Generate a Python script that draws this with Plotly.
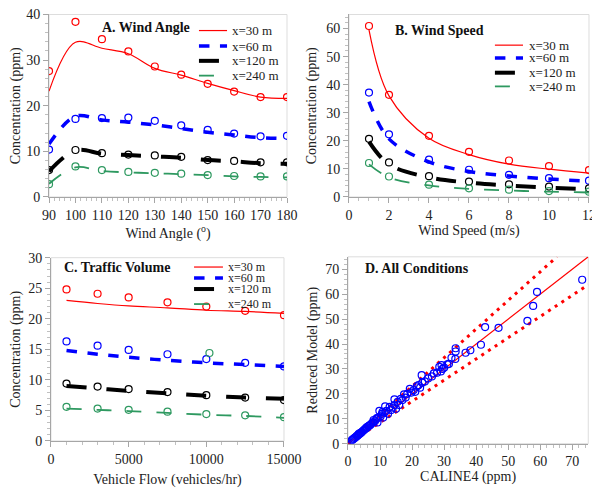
import plotly.graph_objects as go

# ---- A. Wind angle ----
angle = [90, 100, 110, 120, 130, 140, 150, 160, 170, 180]
a_pts = {
    "30": [27.6, 38.4, 34.6, 31.9, 28.6, 26.8, 24.8, 23.1, 21.9, 21.9],
    "60": [10.4, 17.1, 17.3, 17.4, 16.7, 15.7, 14.7, 13.9, 13.3, 13.4],
    "120": [5.9, 10.3, 9.6, 9.3, 9.1, 8.8, 8.1, 7.9, 7.6, 7.6],
    "240": [2.8, 6.7, 5.9, 5.5, 5.3, 5.1, 4.8, 4.6, 4.5, 4.5],
}
a_fit = {
    "30": [23.2, 33.9, 32.6, 31.4, 28.2, 26.7, 24.9, 23.3, 21.9, 21.6],
    "60": [11.6, 17.7, 16.9, 16.4, 15.8, 15.0, 14.2, 13.6, 13.0, 12.8],
    "120": [5.6, 10.2, 9.5, 9.2, 8.9, 8.6, 8.1, 7.8, 7.4, 7.3],
    "240": [2.9, 6.5, 5.7, 5.4, 5.2, 5.0, 4.8, 4.5, 4.4, 4.3],
}

# ---- B. Wind speed ----
speed = [1, 2, 4, 6, 8, 10, 12]
b_pts = {
    "30": [60.9, 36.4, 21.8, 16.1, 13.0, 11.0, 9.6],
    "60": [37.2, 22.3, 13.3, 9.7, 7.9, 6.7, 5.8],
    "120": [20.7, 12.3, 7.4, 5.5, 4.5, 3.7, 3.1],
    "240": [12.1, 7.3, 4.4, 3.1, 2.6, 2.1, 1.9],
}
b_fit = {
    "30": [59.5, 36.0, 20.9, 15.1, 11.7, 9.9, 8.5],
    "60": [34.0, 20.7, 12.5, 9.1, 7.5, 6.4, 5.6],
    "120": [19.7, 11.6, 7.0, 5.1, 4.1, 3.3, 2.8],
    "240": [11.6, 7.0, 4.1, 2.9, 2.3, 1.9, 1.6],
}

# ---- C. Traffic volume ----
flow = [1000, 3000, 5000, 7500, 10000, 12500, 15000]
c_pts = {
    "30": [24.8, 24.1, 23.5, 22.7, 22.0, 21.3, 20.6],
    "60": [16.3, 15.6, 14.9, 14.2, 13.4, 12.8, 12.2],
    "120": [9.4, 8.9, 8.5, 8.0, 7.5, 7.1, 6.7],
    "240": [5.6, 5.3, 5.1, 4.8, 4.4, 4.2, 3.9],
}
c_fit = {
    "30": [23.0, 22.5, 22.1, 21.8, 21.4, 21.2, 20.9],
    "60": [14.8, 14.2, 13.7, 13.2, 12.8, 12.5, 12.2],
    "120": [9.0, 8.6, 8.2, 7.8, 7.4, 7.1, 6.9],
    "240": [5.3, 5.1, 4.9, 4.6, 4.3, 4.1, 3.8],
}
c_extra_x = [10200]      # stray green point in the original
c_extra_y = [14.4]

# ---- D. All conditions ----
caline4 = [1.2, 1.5, 1.8, 2.1, 2.4, 2.7, 3.0, 3.2, 3.5, 3.8, 4.1, 4.4, 4.7, 5.0,
           5.3, 5.6, 6.0, 6.3, 6.7, 7.0, 7.3, 7.7, 8.0, 8.4, 8.8, 9.2, 9.5, 9.8,
           10.2, 10.6, 11.0, 11.4, 11.6, 12.0, 12.5, 13.0, 13.5, 14.0, 14.5, 14.5,
           15.0, 15.5, 16.0, 16.5, 17.0, 17.5, 18.0, 18.5, 19.3, 19.8, 20.5, 21.0,
           21.5, 22.0, 22.5, 23.0, 23.2, 24.0, 25.0, 26.2, 26.8, 27.8, 28.5, 29.0,
           29.2, 29.5, 30.0, 31.0, 31.5, 32.3, 33.6, 33.6, 33.5, 36.7, 38.2, 41.5,
           42.8, 47.0, 56.0, 57.8, 59.0, 73.1, 3.4, 4.0, 5.8, 6.5, 7.9, 9.0, 10.8]
reduced = [1.4, 1.7, 2.0, 2.3, 2.6, 3.0, 3.2, 3.6, 3.8, 4.2, 4.5, 4.8, 5.2, 5.5,
           5.9, 6.1, 6.5, 7.0, 7.3, 7.6, 8.0, 8.5, 9.5, 9.0, 9.8, 8.5, 10.5, 13.2,
           11.0, 12.0, 10.5, 12.5, 15.0, 13.2, 12.0, 14.8, 13.5, 14.5, 17.8, 15.5,
           14.0, 16.8, 15.5, 18.0, 17.5, 19.8, 18.5, 20.0, 22.0, 20.5, 21.5, 20.8,
           23.0, 23.5, 22.5, 27.5, 24.5, 25.0, 26.2, 27.0, 28.2, 28.5, 30.8, 29.0,
           31.5, 30.0, 30.5, 31.8, 32.0, 34.5, 38.3, 37.0, 34.0, 36.5, 37.5, 39.7,
           46.8, 46.5, 49.3, 55.3, 60.9, 65.8, 3.9, 4.3, 6.6, 7.1, 8.6, 10.3, 12.8]
one_x = [0, 75]
one_y = [0, 75]
up_x = [0, 65.2]
up_y = [0, 75]
lo_x = [0, 75]
lo_y = [0, 63.8]

series = ["30", "60", "120", "240"]
labels = ["x=30 m", "x=60 m", "x=120 m", "x=240 m"]
colors = {"30": "#ff0000", "60": "#0000ff", "120": "#000000", "240": "#2e9960"}
styles = {"30": ("solid", 1.2), "60": ("dash", 3.5), "120": ("longdash", 4), "240": ("longdash", 1.8)}

FONT = "Liberation Serif"
fig = go.Figure()

panels = [("x", "y", angle, a_pts, a_fit), ("x2", "y2", speed, b_pts, b_fit),
          ("x3", "y3", flow, c_pts, c_fit)]
for xa, ya, xs, pts, fit in panels:
    for s in series:
        dash, w = styles[s]
        fig.add_trace(go.Scatter(x=xs, y=fit[s], mode="lines", xaxis=xa, yaxis=ya,
                                 line=dict(color=colors[s], dash=dash, width=w, shape="spline", smoothing=1.0),
                                 showlegend=False))
        fig.add_trace(go.Scatter(x=xs, y=pts[s], mode="markers", xaxis=xa, yaxis=ya,
                                 marker=dict(symbol="circle-open", size=7, color=colors[s], line=dict(width=1.2)),
                                 showlegend=False))

fig.add_trace(go.Scatter(x=c_extra_x, y=c_extra_y, mode="markers", xaxis="x3", yaxis="y3",
                         marker=dict(symbol="circle-open", size=7, color=colors["240"], line=dict(width=1.2)),
                         showlegend=False))

# panel D
fig.add_trace(go.Scatter(x=up_x, y=up_y, mode="lines", xaxis="x4", yaxis="y4",
                         line=dict(color="#ff0000", dash="3px,5px", width=3), showlegend=False))
fig.add_trace(go.Scatter(x=lo_x, y=lo_y, mode="lines", xaxis="x4", yaxis="y4",
                         line=dict(color="#ff0000", dash="3px,5px", width=3), showlegend=False))
fig.add_trace(go.Scatter(x=one_x, y=one_y, mode="lines", xaxis="x4", yaxis="y4",
                         line=dict(color="#ff0000", width=1.2), showlegend=False))
fig.add_trace(go.Scatter(x=caline4, y=reduced, mode="markers", xaxis="x4", yaxis="y4",
                         marker=dict(symbol="circle-open", size=7, color="#0000ff", line=dict(width=1.2)),
                         showlegend=False))

tickfont = dict(family=FONT, size=14, color="#222")
titlefont = dict(family=FONT, size=14, color="#222")


def ax(domain, rng, dtick, minor, title, anchor, standoff=2):
    return dict(domain=domain, range=rng, dtick=dtick, tick0=rng[0] if rng[0] > 0 else 0,
                showgrid=False, zeroline=False, showline=True, linecolor="#a6a6a6", linewidth=1,
                ticks="outside", ticklen=5, tickcolor="#a6a6a6", tickformat="d", automargin=False,
                ticklabeloverflow="allow",
                minor=dict(dtick=minor, ticks="outside", ticklen=3, tickcolor="#c0c0c0"),
                tickfont=tickfont, title=dict(text=title, font=titlefont, standoff=standoff),
                anchor=anchor)


# page body adds an 8px offset, so the figure is 592x481
fig.update_layout(
    width=592, height=481, margin=dict(l=0, r=0, t=0, b=0),
    paper_bgcolor="white", plot_bgcolor="white", showlegend=False,
    xaxis=ax([0.0693, 0.4713], [90, 180], 10, 2, "Wind Angle (<sup>o</sup>)", "y", 0),
    yaxis=ax([0.6071, 0.9865], [0, 40], 10, 2, "Concentration (ppm)", "x", 8),
    xaxis2=ax([0.5760, 0.9814], [0, 12], 2, 0.5, "Wind Speed (m/s)", "y2", 0),
    yaxis2=ax([0.6071, 0.9865], [0, 65], 10, 2, "Concentration (ppm)", "x2", 6),
    xaxis3=ax([0.0726, 0.4662], [0, 15000], 5000, 1000, "Vehicle Flow (vehicles/hr)", "y3", 8),
    yaxis3=ax([0.0998, 0.4809], [0, 30], 5, 1, "Concentration (ppm)", "x3", 8),
    xaxis4=ax([0.5743, 0.9802], [0, 75], 10, 2, "CALINE4 (ppm)", "y4", 0),
    yaxis4=ax([0.0942, 0.4827], [0, 75], 10, 2, "Reduced Model (ppm)", "x4", 4),
)

# light frame around each plot area
for xa, ya in [("x", "y"), ("x2", "y2"), ("x3", "y3"), ("x4", "y4")]:
    fig.add_shape(type="rect", xref=xa + " domain", yref=ya + " domain", x0=0, x1=1, y0=0, y1=1,
                  line=dict(color="#dddddd", width=1), layer="below")

# panel titles
titles = [("x", "y", "A. Wind Angle", 0.214, 0.93), ("x2", "y2", "B. Wind Speed", 0.183, 0.91),
          ("x3", "y3", "C. Traffic Volume", 0.047, 0.944), ("x4", "y4", "D. All Conditions", 0.062, 0.940)]
for xa, ya, t, tx, ty in titles:
    fig.add_annotation(xref=xa + " domain", yref=ya + " domain", x=tx, y=ty, text="<b>" + t + "</b>",
                       showarrow=False, xanchor="left", yanchor="middle",
                       font=dict(family=FONT, size=14, color="#111"))

# legends (line sample + label) for panels A-C
legend_pos = [("x", "y", 0.630, 0.748, 0.765, [0.912, 0.827, 0.746, 0.665], 13),
              ("x2", "y2", 0.608, 0.725, 0.746, [0.832, 0.762, 0.681, 0.606], 13),
              ("x3", "y3", 0.614, 0.738, 0.755, [0.949, 0.889, 0.829, 0.747], 12)]
for xa, ya, x0, x1, xt, rows, fs in legend_pos:
    for s, lab, yy in zip(series, labels, rows):
        dash, w = styles[s]
        fig.add_shape(type="line", xref=xa + " domain", yref=ya + " domain", x0=x0, x1=x1, y0=yy, y1=yy,
                      line=dict(color=colors[s], dash=dash, width=w))
        fig.add_annotation(xref=xa + " domain", yref=ya + " domain", x=xt, y=yy, text=lab,
                           showarrow=False, xanchor="left", yanchor="middle", borderpad=0,
                           font=dict(family=FONT, size=fs, color="#222"))

fig.write_html("out.html")
